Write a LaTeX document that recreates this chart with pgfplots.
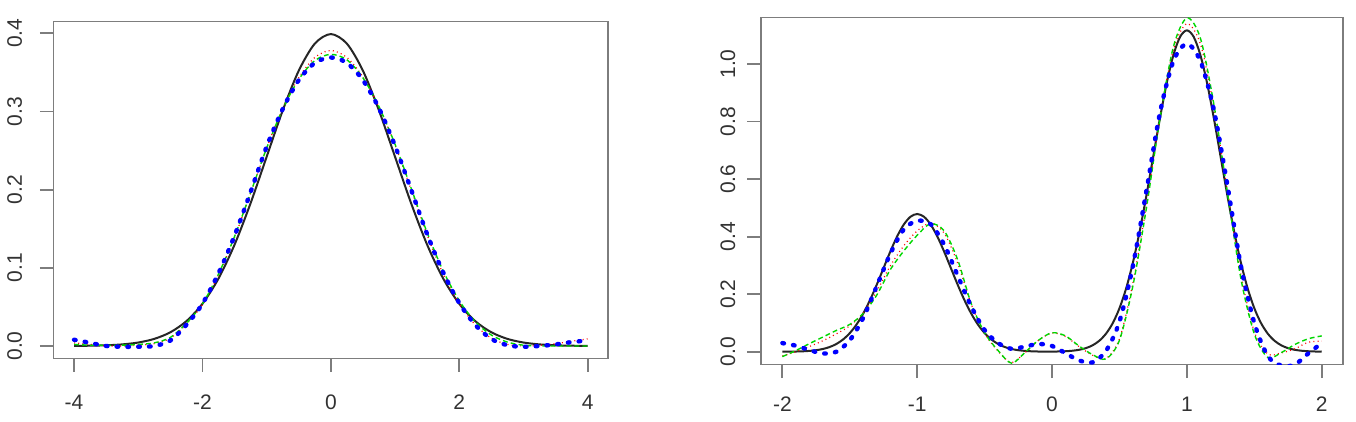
\documentclass[border=0pt]{standalone}
\usepackage{fontspec}
\setmainfont{Liberation Sans}
\usepackage{pgfplots}
\pgfplotsset{compat=1.18}

\definecolor{rred}{RGB}{255,0,0}
\definecolor{rgreen}{RGB}{0,215,0}
\definecolor{rblue}{RGB}{0,0,255}
\definecolor{boxgray}{RGB}{125,125,125}
\definecolor{labgray}{RGB}{50,50,50}

\pgfplotsset{
 rstyle/.style={
  scale only axis,
  anchor=south west,
  axis line style={boxgray, line width=0.9pt},
  tick style={boxgray, line width=0.9pt},
  tick align=outside,
  major tick length=6.75pt,
  tick pos=left,
  minor tick num=0,
  ticklabel style={font=\fontsize{10.5}{12}\selectfont, text=labgray},
  yticklabel style={rotate=90, anchor=south},
  xticklabel style={anchor=north},
  clip=true,
 },
 blackline/.style={black!85, line width=1pt, smooth},
 redline/.style={rred, line width=0.6pt, dash pattern=on 0.5pt off 1.6pt, smooth},
 greenline/.style={rgreen, line width=0.7pt, dash pattern=on 2.4pt off 1.6pt, smooth},
 blueline/.style={rblue, line width=2.2pt, line cap=round, dash pattern=on 0.8pt off 4.6pt, smooth},
}

\begin{document}
\begin{tikzpicture}
\path[use as bounding box] (0,0) rectangle (678pt,211pt);

% ---------------- left panel ----------------
\begin{axis}[rstyle,
  at={(26.75pt,31.75pt)}, width=277.35pt, height=168.45pt,
  xmin=-4.32, xmax=4.32, ymin=-0.016, ymax=0.4149,
  xtick={-4,-2,0,2,4}, xticklabels={-4,-2,0,2,4},
  ytick={0,0.1,0.2,0.3,0.4}, yticklabels={0.0,0.1,0.2,0.3,0.4},
  xticklabel shift=7.8pt, yticklabel shift=5.4pt]
\addplot[blackline] coordinates {
(-4,0.00013) (-3.75,0.00035) (-3.5,0.00087) (-3.25,0.00203) (-3,0.00443)
(-2.75,0.00909) (-2.5,0.01753) (-2.25,0.03174) (-2,0.05399) (-1.75,0.08628)
(-1.5,0.12952) (-1.25,0.18265) (-1,0.24197) (-0.75,0.30114) (-0.5,0.35207)
(-0.25,0.38667) (0,0.39894) (0.25,0.38667) (0.5,0.35207) (0.75,0.30114)
(1,0.24197) (1.25,0.18265) (1.5,0.12952) (1.75,0.08628) (2,0.05399)
(2.25,0.03174) (2.5,0.01753) (2.75,0.00909) (3,0.00443) (3.25,0.00203)
(3.5,0.00087) (3.75,0.00035) (4,0.00013)};
\addplot[redline] coordinates {
(-4,0.004) (-3.75,0.002) (-3.5,0.000) (-3.25,0.000) (-3,0.001)
(-2.75,0.003) (-2.5,0.010) (-2.25,0.028) (-2,0.053) (-1.75,0.091)
(-1.5,0.139) (-1.25,0.195) (-1,0.253) (-0.75,0.304) (-0.5,0.343)
(-0.25,0.369) (0,0.378) (0.25,0.369) (0.5,0.344) (0.75,0.306)
(1,0.257) (1.25,0.200) (1.5,0.142) (1.75,0.092) (2,0.054)
(2.25,0.027) (2.5,0.010) (2.75,0.002) (3,0.000) (3.25,0.001)
(3.5,0.003) (3.75,0.006) (4,0.009)};
\addplot[greenline] coordinates {
(-4,0.002) (-3.75,0.001) (-3.5,0.001) (-3.25,0.001) (-3,0.002)
(-2.75,0.004) (-2.5,0.011) (-2.25,0.029) (-2,0.054) (-1.75,0.092)
(-1.5,0.140) (-1.25,0.196) (-1,0.253) (-0.75,0.303) (-0.5,0.341)
(-0.25,0.365) (0,0.373) (0.25,0.366) (0.5,0.343) (0.75,0.306)
(1,0.258) (1.25,0.202) (1.5,0.145) (1.75,0.096) (2,0.058)
(2.25,0.031) (2.5,0.014) (2.75,0.005) (3,0.001) (3.25,0.000)
(3.5,0.000) (3.75,0.000) (4,0.000)};
\addplot[blueline] coordinates {
(-4,0.008) (-3.75,0.004) (-3.5,0.000) (-3.25,-0.001) (-3,-0.001)
(-2.75,0.000) (-2.5,0.007) (-2.25,0.027) (-2,0.054) (-1.75,0.093)
(-1.5,0.141) (-1.25,0.197) (-1,0.255) (-0.75,0.303) (-0.5,0.340)
(-0.25,0.362) (0,0.369) (0.25,0.362) (0.5,0.340) (0.75,0.304)
(1,0.256) (1.25,0.200) (1.5,0.143) (1.75,0.094) (2,0.055)
(2.25,0.027) (2.5,0.009) (2.75,0.001) (3,-0.001) (3.25,0.000)
(3.5,0.002) (3.75,0.005) (4,0.007)};
\end{axis}

% ---------------- right panel ----------------
\begin{axis}[rstyle,
  at={(380.4pt,28.7pt)}, width=291.25pt, height=173.55pt,
  xmin=-2.16, xmax=2.16, ymin=-0.0447, ymax=1.1617,
  xtick={-2,-1,0,1,2}, xticklabels={-2,-1,0,1,2},
  ytick={0,0.2,0.4,0.6,0.8,1.0}, yticklabels={0.0,0.2,0.4,0.6,0.8,1.0},
  xticklabel shift=5.8pt, yticklabel shift=2.4pt]
\addplot[blackline] coordinates {
(-2,0.00016) (-1.95,0.00035) (-1.9,0.00073) (-1.85,0.00148) (-1.8,0.00286)
(-1.75,0.00532) (-1.7,0.0095) (-1.65,0.0163) (-1.6,0.02687) (-1.55,0.04257)
(-1.5,0.06479) (-1.45,0.09474) (-1.4,0.13311) (-1.35,0.17967) (-1.3,0.23302)
(-1.25,0.29037) (-1.2,0.34763) (-1.15,0.39987) (-1.1,0.44192) (-1.05,0.46925)
(-1,0.47873) (-0.95,0.46925) (-0.9,0.44192) (-0.85,0.39987) (-0.8,0.34763)
(-0.75,0.29037) (-0.7,0.23302) (-0.65,0.17967) (-0.6,0.13311) (-0.55,0.09474)
(-0.5,0.06479) (-0.45,0.04257) (-0.4,0.02687) (-0.35,0.0163) (-0.3,0.0095)
(-0.25,0.00532) (-0.2,0.00286) (-0.15,0.00148) (-0.1,0.00073) (-0.05,0.00035)
(0,0.00054) (0.05,0.0009) (0.1,0.00171) (0.15,0.00345) (0.2,0.00668)
(0.25,0.01241) (0.3,0.02216) (0.35,0.03803) (0.4,0.06271) (0.45,0.09933)
(0.5,0.15117) (0.55,0.22106) (0.6,0.31058) (0.65,0.41924) (0.7,0.54372)
(0.75,0.67752) (0.8,0.81114) (0.85,0.93303) (0.9,1.03116) (0.95,1.09492)
(1,1.11704) (1.05,1.09492) (1.1,1.03116) (1.15,0.93303) (1.2,0.81114)
(1.25,0.67752) (1.3,0.54372) (1.35,0.41924) (1.4,0.31058) (1.45,0.22106)
(1.5,0.15117) (1.55,0.09933) (1.6,0.06271) (1.65,0.03803) (1.7,0.02216)
(1.75,0.01241) (1.8,0.00668) (1.85,0.00345) (1.9,0.00171) (1.95,0.00082)
(2,0.00038)};
\addplot[redline] coordinates {
(-2,-0.015) (-1.9,0.000) (-1.8,0.018) (-1.7,0.038) (-1.6,0.062)
(-1.5,0.090) (-1.4,0.135) (-1.3,0.210) (-1.2,0.298) (-1.1,0.368)
(-1,0.420) (-0.9,0.447) (-0.8,0.412) (-0.7,0.308) (-0.6,0.166)
(-0.5,0.064) (-0.4,0.002) (-0.3,-0.038) (-0.2,-0.003) (-0.1,0.040)
(0,0.065) (0.1,0.053) (0.2,0.018) (0.3,-0.012) (0.4,-0.024)
(0.5,0.045) (0.6,0.240) (0.7,0.510) (0.8,0.815) (0.9,1.050)
(1,1.140) (1.1,1.070) (1.2,0.850) (1.3,0.560) (1.4,0.270)
(1.5,0.070) (1.6,-0.008) (1.7,-0.004) (1.8,0.010) (1.9,0.033)
(2,0.037)};
\addplot[greenline] coordinates {
(-2,-0.017) (-1.9,0.004) (-1.8,0.028) (-1.7,0.051) (-1.6,0.074)
(-1.5,0.095) (-1.4,0.133) (-1.3,0.197) (-1.2,0.285) (-1.1,0.350)
(-1,0.405) (-0.9,0.445) (-0.8,0.420) (-0.7,0.320) (-0.6,0.168)
(-0.5,0.066) (-0.4,0.004) (-0.3,-0.040) (-0.2,-0.002) (-0.1,0.040)
(0,0.066) (0.1,0.055) (0.2,0.020) (0.3,-0.010) (0.4,-0.025)
(0.5,0.040) (0.6,0.230) (0.7,0.500) (0.8,0.810) (0.9,1.060)
(1,1.160) (1.1,1.090) (1.2,0.860) (1.3,0.555) (1.4,0.255)
(1.5,0.062) (1.6,-0.020) (1.7,-0.003) (1.8,0.025) (1.9,0.045)
(2,0.055)};
\addplot[blueline] coordinates {
(-2,0.030) (-1.9,0.021) (-1.8,0.006) (-1.7,-0.006) (-1.6,0.000)
(-1.5,0.040) (-1.4,0.118) (-1.3,0.228) (-1.2,0.340) (-1.1,0.425)
(-1,0.455) (-0.9,0.443) (-0.8,0.372) (-0.7,0.265) (-0.6,0.158)
(-0.5,0.075) (-0.4,0.030) (-0.3,0.010) (-0.2,0.018) (-0.1,0.027)
(0,0.020) (0.1,-0.005) (0.2,-0.030) (0.3,-0.037) (0.4,0.003)
(0.5,0.105) (0.6,0.300) (0.7,0.560) (0.8,0.830) (0.9,1.010)
(1,1.070) (1.1,1.010) (1.2,0.840) (1.3,0.580) (1.4,0.300)
(1.5,0.100) (1.6,-0.015) (1.7,-0.048) (1.8,-0.045) (1.9,-0.006)
(2,0.030)};
\end{axis}
\end{tikzpicture}
\end{document}
